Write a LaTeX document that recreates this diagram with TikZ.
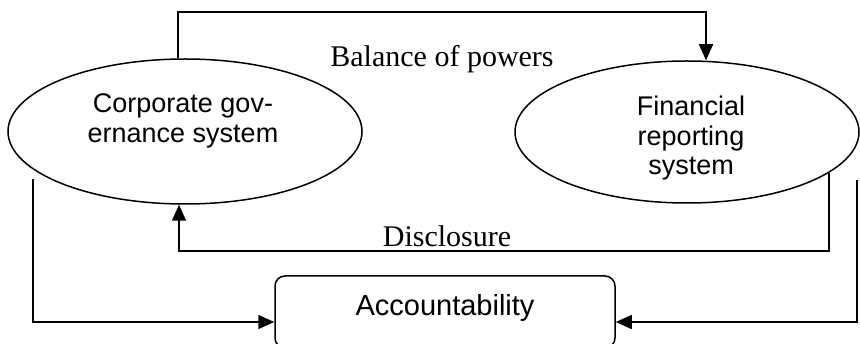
\documentclass[tikz,border=0pt]{standalone}
\usepackage{fontspec}
\setmainfont{Liberation Serif}
\newfontfamily\arialf{Liberation Sans}
\usetikzlibrary{arrows.meta,shapes.geometric}
\begin{document}
\begin{tikzpicture}[x=1pt,y=-1pt,
  conn/.style={line width=1.5pt},
  arr/.style={conn,-{Triangle[length=16pt,width=14pt]}},
  ell/.style={draw,ellipse,line width=1.5pt,inner sep=0pt},
  sanslab/.style={font=\arialf\fontsize{27}{29.5}\selectfont,align=center,anchor=north,inner sep=0pt},
  serlab/.style={font=\fontsize{30}{33}\selectfont,anchor=base,inner sep=0pt},
  boxstyle/.style={draw,rounded corners=10pt,line width=1.5pt,minimum width=340pt,minimum height=72pt,inner sep=0pt,
    font=\arialf\fontsize{29}{32}\selectfont,text height=21pt,text depth=13pt}]
\useasboundingbox (0,0) rectangle (860,344);
% ellipses
\node[ell,minimum width=354pt,minimum height=145pt] (L) at (185,131.5) {};
\node[ell,minimum width=344pt,minimum height=142pt] (R) at (687,132) {};
\node[sanslab] (Lt) at (183,93.5) {Corporate gov-\\ernance system};
\node[sanslab] (Rt) at (691,96) {Financial\\reporting\\system};
% box
\node[boxstyle] (acc) at (445,312) {Accountability};
% labels
\node[serlab] (bal) at (442,67) {Balance of powers};
\node[serlab] (dis) at (447,247) {Disclosure};
% connectors
\coordinate (tl) at (178,12);
\coordinate (tr) at (706,12);
\draw[arr] (tl |- L.north) -- (tl) -- (tr) -- (tr |- R.north);
\coordinate (db) at (179,251);
\draw[arr] (R.-16.7) |- (db) -- (db |- L.south);
\coordinate (la) at (33,179);
\coordinate (lb) at (33,322);
\draw[arr] (la) -- (lb) -- (lb -| acc.west);
\coordinate (ra) at (857,180);
\coordinate (rb) at (857,322);
\draw[arr] (ra) -- (rb) -- (rb -| acc.east);
\end{tikzpicture}
\end{document}
